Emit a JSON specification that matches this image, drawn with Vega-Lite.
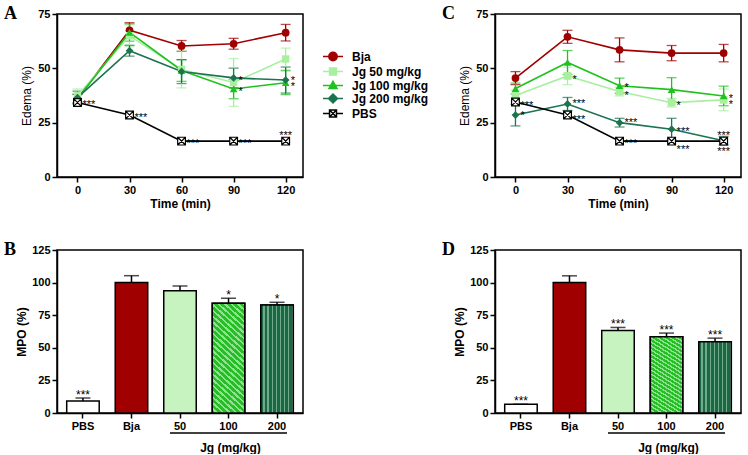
{
  "$schema": "https://vega.github.io/schema/vega-lite/v6.json",
  "background": "white",
  "padding": {"left": 3, "top": 3, "right": 0, "bottom": 0},
  "config": {
    "font": "Liberation Sans",
    "view": {"stroke": "black", "strokeWidth": 1.5},
    "axis": {"domainColor": "black", "domainWidth": 1.5, "tickColor": "black", "tickWidth": 1.5, "tickSize": 5, "labelFont": "Liberation Sans", "labelFontWeight": "bold", "labelFontSize": 11, "labelColor": "black", "labelPadding": 2, "titleFont": "Liberation Sans", "titleFontSize": 12, "titleFontWeight": "bold", "titleColor": "black", "grid": false},
    "title": {"font": "Liberation Serif", "fontSize": 18, "fontWeight": "bold", "color": "black", "anchor": "start", "frame": "group"}
  },
  "datasets": {
    "lines": [
      {"panel": "A", "series": "Bja", "time": 0, "mean": 36, "err": 2},
      {"panel": "A", "series": "Bja", "time": 30, "mean": 67.5, "err": 3.5},
      {"panel": "A", "series": "Bja", "time": 60, "mean": 60.3, "err": 2.5},
      {"panel": "A", "series": "Bja", "time": 90, "mean": 61.3, "err": 2.5},
      {"panel": "A", "series": "Bja", "time": 120, "mean": 66.4, "err": 3.8},
      {"panel": "A", "series": "Jg 50 mg/kg", "time": 0, "mean": 37.5, "err": 3},
      {"panel": "A", "series": "Jg 50 mg/kg", "time": 30, "mean": 65, "err": 5},
      {"panel": "A", "series": "Jg 50 mg/kg", "time": 60, "mean": 49.5, "err": 8.5},
      {"panel": "A", "series": "Jg 50 mg/kg", "time": 90, "mean": 43.5, "err": 11},
      {"panel": "A", "series": "Jg 50 mg/kg", "time": 120, "mean": 54.3, "err": 5},
      {"panel": "A", "series": "Jg 100 mg/kg", "time": 0, "mean": 36, "err": 2},
      {"panel": "A", "series": "Jg 100 mg/kg", "time": 30, "mean": 66.5, "err": 4},
      {"panel": "A", "series": "Jg 100 mg/kg", "time": 60, "mean": 49, "err": 5},
      {"panel": "A", "series": "Jg 100 mg/kg", "time": 90, "mean": 40.5, "err": 4.5},
      {"panel": "A", "series": "Jg 100 mg/kg", "time": 120, "mean": 43.4, "err": 5.5},
      {"panel": "A", "series": "Jg 200 mg/kg", "time": 0, "mean": 36.5, "err": 3},
      {"panel": "A", "series": "Jg 200 mg/kg", "time": 30, "mean": 58.1, "err": 2.5},
      {"panel": "A", "series": "Jg 200 mg/kg", "time": 60, "mean": 48.5, "err": 5.5},
      {"panel": "A", "series": "Jg 200 mg/kg", "time": 90, "mean": 45.6, "err": 4.5},
      {"panel": "A", "series": "Jg 200 mg/kg", "time": 120, "mean": 44.6, "err": 6},
      {"panel": "A", "series": "PBS", "time": 0, "mean": 34.3, "err": 0},
      {"panel": "A", "series": "PBS", "time": 30, "mean": 28.5, "err": 0},
      {"panel": "A", "series": "PBS", "time": 60, "mean": 16.5, "err": 0},
      {"panel": "A", "series": "PBS", "time": 90, "mean": 16.5, "err": 0},
      {"panel": "A", "series": "PBS", "time": 120, "mean": 16.5, "err": 0},
      {"panel": "C", "series": "Bja", "time": 0, "mean": 45.5, "err": 3},
      {"panel": "C", "series": "Bja", "time": 30, "mean": 64.5, "err": 3},
      {"panel": "C", "series": "Bja", "time": 60, "mean": 58.5, "err": 5.5},
      {"panel": "C", "series": "Bja", "time": 90, "mean": 57, "err": 3.5},
      {"panel": "C", "series": "Bja", "time": 120, "mean": 57, "err": 4},
      {"panel": "C", "series": "Jg 50 mg/kg", "time": 0, "mean": 37.5, "err": 2.5},
      {"panel": "C", "series": "Jg 50 mg/kg", "time": 30, "mean": 46.5, "err": 4},
      {"panel": "C", "series": "Jg 50 mg/kg", "time": 60, "mean": 39.3, "err": 2},
      {"panel": "C", "series": "Jg 50 mg/kg", "time": 90, "mean": 34.2, "err": 2},
      {"panel": "C", "series": "Jg 50 mg/kg", "time": 120, "mean": 35.5, "err": 5},
      {"panel": "C", "series": "Jg 100 mg/kg", "time": 0, "mean": 40.7, "err": 2.5},
      {"panel": "C", "series": "Jg 100 mg/kg", "time": 30, "mean": 52.7, "err": 5.5},
      {"panel": "C", "series": "Jg 100 mg/kg", "time": 60, "mean": 42, "err": 3.5},
      {"panel": "C", "series": "Jg 100 mg/kg", "time": 90, "mean": 40.2, "err": 5.5},
      {"panel": "C", "series": "Jg 100 mg/kg", "time": 120, "mean": 37.3, "err": 4.5},
      {"panel": "C", "series": "Jg 200 mg/kg", "time": 0, "mean": 28.5, "err": 5},
      {"panel": "C", "series": "Jg 200 mg/kg", "time": 30, "mean": 33.6, "err": 3},
      {"panel": "C", "series": "Jg 200 mg/kg", "time": 60, "mean": 25, "err": 2},
      {"panel": "C", "series": "Jg 200 mg/kg", "time": 90, "mean": 22, "err": 5},
      {"panel": "C", "series": "Jg 200 mg/kg", "time": 120, "mean": 16.7, "err": 2},
      {"panel": "C", "series": "PBS", "time": 0, "mean": 34.5, "err": 0},
      {"panel": "C", "series": "PBS", "time": 30, "mean": 28.5, "err": 0},
      {"panel": "C", "series": "PBS", "time": 60, "mean": 16.5, "err": 0},
      {"panel": "C", "series": "PBS", "time": 90, "mean": 16.5, "err": 0},
      {"panel": "C", "series": "PBS", "time": 120, "mean": 16.5, "err": 0}
    ],
    "stars": [
      {"panel": "A", "time": 0, "ypos": 34.3, "label": "***", "side": "right"},
      {"panel": "A", "time": 30, "ypos": 28.5, "label": "***", "side": "right"},
      {"panel": "A", "time": 60, "ypos": 16.5, "label": "***", "side": "right"},
      {"panel": "A", "time": 90, "ypos": 16.5, "label": "***", "side": "right"},
      {"panel": "A", "time": 120, "ypos": 20.3, "label": "***", "side": "center"},
      {"panel": "A", "time": 90, "ypos": 45.6, "label": "*", "side": "right"},
      {"panel": "A", "time": 90, "ypos": 40.5, "label": "*", "side": "right"},
      {"panel": "A", "time": 120, "ypos": 45.5, "label": "*", "side": "right"},
      {"panel": "A", "time": 120, "ypos": 42.9, "label": "*", "side": "right"},
      {"panel": "C", "time": 0, "ypos": 29.4, "label": "*", "side": "right"},
      {"panel": "C", "time": 0, "ypos": 34, "label": "***", "side": "right"},
      {"panel": "C", "time": 30, "ypos": 35, "label": "***", "side": "right"},
      {"panel": "C", "time": 30, "ypos": 27.6, "label": "***", "side": "right"},
      {"panel": "C", "time": 30, "ypos": 46, "label": "*", "side": "right"},
      {"panel": "C", "time": 60, "ypos": 42.3, "label": "*", "side": "right"},
      {"panel": "C", "time": 60, "ypos": 38.6, "label": "*", "side": "right"},
      {"panel": "C", "time": 60, "ypos": 26, "label": "***", "side": "right"},
      {"panel": "C", "time": 60, "ypos": 16.7, "label": "***", "side": "right"},
      {"panel": "C", "time": 90, "ypos": 34, "label": "*", "side": "right"},
      {"panel": "C", "time": 90, "ypos": 22, "label": "***", "side": "right"},
      {"panel": "C", "time": 90, "ypos": 14, "label": "***", "side": "right"},
      {"panel": "C", "time": 120, "ypos": 37.4, "label": "*", "side": "right"},
      {"panel": "C", "time": 120, "ypos": 34.7, "label": "*", "side": "right"},
      {"panel": "C", "time": 120, "ypos": 20.3, "label": "***", "side": "center"},
      {"panel": "C", "time": 120, "ypos": 12.9, "label": "***", "side": "center"}
    ],
    "bars": [
      {"panel": "B", "group": "PBS", "value": 9.2, "top": 11.5, "label": "***"},
      {"panel": "B", "group": "Bja", "value": 100, "top": 105.3, "label": ""},
      {"panel": "B", "group": "50", "value": 93.8, "top": 97.4, "label": ""},
      {"panel": "B", "group": "100", "value": 84.1, "top": 88, "label": "*"},
      {"panel": "B", "group": "200", "value": 82.8, "top": 84.9, "label": "*"},
      {"panel": "D", "group": "PBS", "value": 6.7, "top": 6.7, "label": "***"},
      {"panel": "D", "group": "Bja", "value": 100, "top": 105.2, "label": ""},
      {"panel": "D", "group": "50", "value": 63.2, "top": 65.6, "label": "***"},
      {"panel": "D", "group": "100", "value": 58.4, "top": 61.3, "label": "***"},
      {"panel": "D", "group": "200", "value": 54.6, "top": 57.4, "label": "***"}
    ],
    "brackets": [
      {"from": "50", "to": "200", "level": -15.4}
    ]
  },
  "concat": [
    {
      "width": 246, "height": 163,
      "title": {"text": "A", "dx": -53, "dy": 18.5},
      "data": {"name": "lines"},
      "transform": [{"filter": "datum.panel === 'A'"}],
      "encoding": {
        "x": {"field": "time", "type": "quantitative", "title": "Time (min)", "scale": {"domain": [-11.8, 130], "nice": false, "zero": false}, "axis": {"values": [0, 30, 60, 90, 120], "titlePadding": 3}},
        "y": {"field": "mean", "type": "quantitative", "title": "Edema (%)", "scale": {"domain": [0, 75], "nice": false}, "axis": {"values": [0, 25, 50, 75], "titleFontWeight": "normal", "titlePadding": 4}}
      },
      "layer": [
        {
          "transform": [{"filter": "datum.time < 0"}],
          "mark": {"type": "point", "filled": true, "opacity": 1},
          "encoding": {
            "fill": {"field": "series", "type": "nominal", "scale": {"domain": ["Bja", "Jg 50 mg/kg", "Jg 100 mg/kg", "Jg 200 mg/kg", "PBS"], "range": ["#a00000", "#a8f0a0", "#1ec21e", "#1b7350", "#ffffff"]},
              "legend": {"title": null, "orient": "none", "legendX": 269, "legendY": 35.5, "padding": 0, "rowPadding": -1, "symbolSize": 144, "symbolStrokeWidth": 1.5, "symbolOpacity": 1, "labelFont": "Liberation Sans", "labelFontSize": 12, "labelFontWeight": "bold", "labelColor": "black", "labelOffset": 12}},
            "stroke": {"field": "series", "type": "nominal", "scale": {"domain": ["Bja", "Jg 50 mg/kg", "Jg 100 mg/kg", "Jg 200 mg/kg", "PBS"], "range": ["#a00000", "#a8f0a0", "#1ec21e", "#1b7350", "#000000"]}},
            "shape": {"field": "series", "type": "nominal", "scale": {"domain": ["Bja", "Jg 50 mg/kg", "Jg 100 mg/kg", "Jg 200 mg/kg", "PBS"], "range": [
              "M-1.667,0L1.667,0M-0.7,0A0.7,0.7,0,1,0,0.7,0A0.7,0.7,0,1,0,-0.7,0Z",
              "M-1.667,0L1.667,0M-0.58,-0.58L0.58,-0.58L0.58,0.58L-0.58,0.58Z",
              "M-1.667,0L1.667,0M0,-0.7L0.67,0.5L-0.67,0.5Z",
              "M-1.667,0L1.667,0M0,-0.75L0.75,0L0,0.75L-0.75,0Z",
              "M-1.667,0L-0.58,0M0.58,0L1.667,0M-0.58,-0.58L0.58,-0.58L0.58,0.58L-0.58,0.58ZM-0.58,-0.58L0.58,0.58M0.58,-0.58L-0.58,0.58"]}}
          }
        },
        {
          "transform": [{"filter": "datum.series !== 'PBS'"}],
          "mark": {"type": "errorbar", "ticks": {"size": 10, "thickness": 1.3}, "rule": {"strokeWidth": 1.3}},
          "encoding": {
            "yError": {"field": "err"},
            "color": {"field": "series", "type": "nominal", "scale": {"domain": ["PBS", "Bja", "Jg 50 mg/kg", "Jg 100 mg/kg", "Jg 200 mg/kg"], "range": ["#000000", "#a00000", "#a8f0a0", "#1ec21e", "#1b7350"]}, "legend": null}
          }
        },
        {
          "mark": {"type": "line", "strokeWidth": 1.6},
          "encoding": {
            "color": {"field": "series", "type": "nominal", "scale": {"domain": ["PBS", "Bja", "Jg 50 mg/kg", "Jg 100 mg/kg", "Jg 200 mg/kg"], "range": ["#000000", "#a00000", "#a8f0a0", "#1ec21e", "#1b7350"]}, "legend": null}
          }
        },
        {
          "transform": [{"filter": "datum.series === 'Bja'"}],
          "mark": {"type": "point", "filled": true, "size": 60, "opacity": 1, "shape": "circle", "color": "#a00000"}
        },
        {
          "transform": [{"filter": "datum.series === 'Jg 50 mg/kg'"}],
          "mark": {"type": "point", "filled": true, "size": 55, "opacity": 1, "shape": "square", "color": "#a8f0a0"}
        },
        {
          "transform": [{"filter": "datum.series === 'Jg 100 mg/kg'"}],
          "mark": {"type": "point", "filled": true, "size": 60, "opacity": 1, "shape": "triangle-up", "color": "#1ec21e"}
        },
        {
          "transform": [{"filter": "datum.series === 'Jg 200 mg/kg'"}],
          "mark": {"type": "point", "filled": true, "size": 60, "opacity": 1, "shape": "diamond", "color": "#1b7350"}
        },
        {
          "transform": [{"filter": "datum.series === 'PBS'"}],
          "mark": {"type": "point", "filled": false, "fill": "white", "stroke": "black", "strokeWidth": 1.2, "size": 60, "opacity": 1, "shape": "M-1,-1L1,-1L1,1L-1,1ZM-1,-1L1,1M1,-1L-1,1"}
        },
        {
          "data": {"name": "stars"},
          "transform": [{"filter": "datum.panel === 'A' && datum.side === 'right'"}],
          "mark": {"type": "text", "align": "left", "baseline": "middle", "dx": 5, "dy": 3, "fontSize": 11, "font": "Liberation Sans", "color": "black"},
          "encoding": {"y": {"field": "ypos", "type": "quantitative", "title": "Edema (%)"}, "text": {"field": "label"}}
        },
        {
          "data": {"name": "stars"},
          "transform": [{"filter": "datum.panel === 'A' && datum.side === 'center'"}],
          "mark": {"type": "text", "align": "center", "baseline": "middle", "dy": 3, "fontSize": 11, "font": "Liberation Sans", "color": "black"},
          "encoding": {"y": {"field": "ypos", "type": "quantitative", "title": "Edema (%)"}, "text": {"field": "label"}}
        }
      ]
    },
    {
      "width": 246, "height": 163,
      "title": {"text": "C", "dx": -53, "dy": 18.5},
      "data": {"name": "lines"},
      "transform": [{"filter": "datum.panel === 'C'"}],
      "encoding": {
        "x": {"field": "time", "type": "quantitative", "title": "Time (min)", "scale": {"domain": [-11.8, 130], "nice": false, "zero": false}, "axis": {"values": [0, 30, 60, 90, 120], "titlePadding": 3}},
        "y": {"field": "mean", "type": "quantitative", "title": "Edema (%)", "scale": {"domain": [0, 75], "nice": false}, "axis": {"values": [0, 25, 50, 75], "titleFontWeight": "normal", "titlePadding": 4}}
      },
      "layer": [
        {
          "transform": [{"filter": "datum.series !== 'PBS'"}],
          "mark": {"type": "errorbar", "ticks": {"size": 10, "thickness": 1.3}, "rule": {"strokeWidth": 1.3}},
          "encoding": {
            "yError": {"field": "err"},
            "color": {"field": "series", "type": "nominal", "scale": {"domain": ["Bja", "Jg 50 mg/kg", "Jg 100 mg/kg", "Jg 200 mg/kg", "PBS"], "range": ["#a00000", "#a8f0a0", "#1ec21e", "#1b7350", "#000000"]}, "legend": null}
          }
        },
        {
          "mark": {"type": "line", "strokeWidth": 1.6},
          "encoding": {
            "color": {"field": "series", "type": "nominal", "scale": {"domain": ["Bja", "Jg 50 mg/kg", "Jg 100 mg/kg", "Jg 200 mg/kg", "PBS"], "range": ["#a00000", "#a8f0a0", "#1ec21e", "#1b7350", "#000000"]}, "legend": null}
          }
        },
        {
          "transform": [{"filter": "datum.series !== 'PBS'"}],
          "mark": {"type": "point", "filled": true, "size": 60, "opacity": 1},
          "encoding": {
            "color": {"field": "series", "type": "nominal", "scale": {"domain": ["Bja", "Jg 50 mg/kg", "Jg 100 mg/kg", "Jg 200 mg/kg", "PBS"], "range": ["#a00000", "#a8f0a0", "#1ec21e", "#1b7350", "#000000"]}, "legend": null},
            "shape": {"field": "series", "type": "nominal", "scale": {"domain": ["Bja", "Jg 50 mg/kg", "Jg 100 mg/kg", "Jg 200 mg/kg", "PBS"], "range": ["circle", "square", "triangle-up", "diamond", "square"]}, "legend": null}
          }
        },
        {
          "transform": [{"filter": "datum.series === 'PBS'"}],
          "mark": {"type": "point", "filled": false, "fill": "white", "stroke": "black", "strokeWidth": 1.2, "size": 60, "opacity": 1, "shape": "M-1,-1L1,-1L1,1L-1,1ZM-1,-1L1,1M1,-1L-1,1"}
        },
        {
          "data": {"name": "stars"},
          "transform": [{"filter": "datum.panel === 'C' && datum.side === 'right'"}],
          "mark": {"type": "text", "align": "left", "baseline": "middle", "dx": 5, "dy": 3, "fontSize": 11, "font": "Liberation Sans", "color": "black"},
          "encoding": {"y": {"field": "ypos", "type": "quantitative", "title": "Edema (%)"}, "text": {"field": "label"}}
        },
        {
          "data": {"name": "stars"},
          "transform": [{"filter": "datum.panel === 'C' && datum.side === 'center'"}],
          "mark": {"type": "text", "align": "center", "baseline": "middle", "dy": 3, "fontSize": 11, "font": "Liberation Sans", "color": "black"},
          "encoding": {"y": {"field": "ypos", "type": "quantitative", "title": "Edema (%)"}, "text": {"field": "label"}}
        }
      ]
    },
    {
      "width": 246, "height": 163,
      "title": {"text": "B", "dx": -53, "dy": 18.5},
      "data": {"name": "bars"},
      "transform": [{"filter": "datum.panel === 'B'"}],
      "encoding": {
        "x": {"field": "group", "type": "nominal", "title": "Jg (mg/kg)", "scale": {"domain": ["PBS", "Bja", "50", "100", "200"], "paddingInner": 0.33, "paddingOuter": 0.2}, "axis": {"labelAngle": 0, "titleX": 173, "titleY": 34, "titleBaseline": "middle"}},
        "y": {"field": "value", "type": "quantitative", "title": "MPO (%)", "scale": {"domain": [0, 125], "nice": false}, "axis": {"values": [0, 25, 50, 75, 100, 125], "titlePadding": 3}}
      },
      "layer": [
        {
          "mark": {"type": "bar", "stroke": "black", "strokeWidth": 1.5},
          "encoding": {"color": {"field": "group", "type": "nominal", "scale": {"domain": ["PBS", "Bja", "50", "100", "200"], "range": ["#ffffff", "#a00000", "#c6f3bf", "#4ccc4c", "#2a7453"]}, "legend": null}}
        },
        {
          "transform": [{"filter": "datum.group === '100'"}],
          "mark": {"type": "bar", "stroke": "black", "strokeWidth": 1.5, "fill": {"gradient": "linear", "x1": 0, "y1": 1, "x2": 0.315, "y2": -0.182, "stops": [
            {"offset": 0, "color": "#27bd27"}, {"offset": 0.025, "color": "#27bd27"}, {"offset": 0.025, "color": "#8ee38e"}, {"offset": 0.0417, "color": "#8ee38e"},
            {"offset": 0.0417, "color": "#27bd27"}, {"offset": 0.0667, "color": "#27bd27"}, {"offset": 0.0667, "color": "#8ee38e"}, {"offset": 0.0833, "color": "#8ee38e"},
            {"offset": 0.0833, "color": "#27bd27"}, {"offset": 0.1083, "color": "#27bd27"}, {"offset": 0.1083, "color": "#8ee38e"}, {"offset": 0.125, "color": "#8ee38e"},
            {"offset": 0.125, "color": "#27bd27"}, {"offset": 0.15, "color": "#27bd27"}, {"offset": 0.15, "color": "#8ee38e"}, {"offset": 0.1667, "color": "#8ee38e"},
            {"offset": 0.1667, "color": "#27bd27"}, {"offset": 0.1917, "color": "#27bd27"}, {"offset": 0.1917, "color": "#8ee38e"}, {"offset": 0.2083, "color": "#8ee38e"},
            {"offset": 0.2083, "color": "#27bd27"}, {"offset": 0.2333, "color": "#27bd27"}, {"offset": 0.2333, "color": "#8ee38e"}, {"offset": 0.25, "color": "#8ee38e"},
            {"offset": 0.25, "color": "#27bd27"}, {"offset": 0.275, "color": "#27bd27"}, {"offset": 0.275, "color": "#8ee38e"}, {"offset": 0.2917, "color": "#8ee38e"},
            {"offset": 0.2917, "color": "#27bd27"}, {"offset": 0.3167, "color": "#27bd27"}, {"offset": 0.3167, "color": "#8ee38e"}, {"offset": 0.3333, "color": "#8ee38e"},
            {"offset": 0.3333, "color": "#27bd27"}, {"offset": 0.3583, "color": "#27bd27"}, {"offset": 0.3583, "color": "#8ee38e"}, {"offset": 0.375, "color": "#8ee38e"},
            {"offset": 0.375, "color": "#27bd27"}, {"offset": 0.4, "color": "#27bd27"}, {"offset": 0.4, "color": "#8ee38e"}, {"offset": 0.4167, "color": "#8ee38e"},
            {"offset": 0.4167, "color": "#27bd27"}, {"offset": 0.4417, "color": "#27bd27"}, {"offset": 0.4417, "color": "#8ee38e"}, {"offset": 0.4583, "color": "#8ee38e"},
            {"offset": 0.4583, "color": "#27bd27"}, {"offset": 0.4833, "color": "#27bd27"}, {"offset": 0.4833, "color": "#8ee38e"}, {"offset": 0.5, "color": "#8ee38e"},
            {"offset": 0.5, "color": "#27bd27"}, {"offset": 0.525, "color": "#27bd27"}, {"offset": 0.525, "color": "#8ee38e"}, {"offset": 0.5417, "color": "#8ee38e"},
            {"offset": 0.5417, "color": "#27bd27"}, {"offset": 0.5667, "color": "#27bd27"}, {"offset": 0.5667, "color": "#8ee38e"}, {"offset": 0.5833, "color": "#8ee38e"},
            {"offset": 0.5833, "color": "#27bd27"}, {"offset": 0.6083, "color": "#27bd27"}, {"offset": 0.6083, "color": "#8ee38e"}, {"offset": 0.625, "color": "#8ee38e"},
            {"offset": 0.625, "color": "#27bd27"}, {"offset": 0.65, "color": "#27bd27"}, {"offset": 0.65, "color": "#8ee38e"}, {"offset": 0.6667, "color": "#8ee38e"},
            {"offset": 0.6667, "color": "#27bd27"}, {"offset": 0.6917, "color": "#27bd27"}, {"offset": 0.6917, "color": "#8ee38e"}, {"offset": 0.7083, "color": "#8ee38e"},
            {"offset": 0.7083, "color": "#27bd27"}, {"offset": 0.7333, "color": "#27bd27"}, {"offset": 0.7333, "color": "#8ee38e"}, {"offset": 0.75, "color": "#8ee38e"},
            {"offset": 0.75, "color": "#27bd27"}, {"offset": 0.775, "color": "#27bd27"}, {"offset": 0.775, "color": "#8ee38e"}, {"offset": 0.7917, "color": "#8ee38e"},
            {"offset": 0.7917, "color": "#27bd27"}, {"offset": 0.8167, "color": "#27bd27"}, {"offset": 0.8167, "color": "#8ee38e"}, {"offset": 0.8333, "color": "#8ee38e"},
            {"offset": 0.8333, "color": "#27bd27"}, {"offset": 0.8583, "color": "#27bd27"}, {"offset": 0.8583, "color": "#8ee38e"}, {"offset": 0.875, "color": "#8ee38e"},
            {"offset": 0.875, "color": "#27bd27"}, {"offset": 0.9, "color": "#27bd27"}, {"offset": 0.9, "color": "#8ee38e"}, {"offset": 0.9167, "color": "#8ee38e"},
            {"offset": 0.9167, "color": "#27bd27"}, {"offset": 0.9417, "color": "#27bd27"}, {"offset": 0.9417, "color": "#8ee38e"}, {"offset": 0.9583, "color": "#8ee38e"},
            {"offset": 0.9583, "color": "#27bd27"}, {"offset": 0.9833, "color": "#27bd27"}, {"offset": 0.9833, "color": "#8ee38e"}, {"offset": 1, "color": "#8ee38e"}]}}
        },
        {
          "transform": [{"filter": "datum.group === '200'"}],
          "mark": {"type": "bar", "stroke": "black", "strokeWidth": 1.5, "fill": {"gradient": "linear", "x1": 0, "y1": 0, "x2": 1, "y2": 0, "stops": [
            {"offset": 0, "color": "#1b6943"}, {"offset": 0.08125, "color": "#1b6943"}, {"offset": 0.08125, "color": "#72aa8e"}, {"offset": 0.125, "color": "#72aa8e"},
            {"offset": 0.125, "color": "#1b6943"}, {"offset": 0.20625, "color": "#1b6943"}, {"offset": 0.20625, "color": "#72aa8e"}, {"offset": 0.25, "color": "#72aa8e"},
            {"offset": 0.25, "color": "#1b6943"}, {"offset": 0.33125, "color": "#1b6943"}, {"offset": 0.33125, "color": "#72aa8e"}, {"offset": 0.375, "color": "#72aa8e"},
            {"offset": 0.375, "color": "#1b6943"}, {"offset": 0.45625, "color": "#1b6943"}, {"offset": 0.45625, "color": "#72aa8e"}, {"offset": 0.5, "color": "#72aa8e"},
            {"offset": 0.5, "color": "#1b6943"}, {"offset": 0.58125, "color": "#1b6943"}, {"offset": 0.58125, "color": "#72aa8e"}, {"offset": 0.625, "color": "#72aa8e"},
            {"offset": 0.625, "color": "#1b6943"}, {"offset": 0.70625, "color": "#1b6943"}, {"offset": 0.70625, "color": "#72aa8e"}, {"offset": 0.75, "color": "#72aa8e"},
            {"offset": 0.75, "color": "#1b6943"}, {"offset": 0.83125, "color": "#1b6943"}, {"offset": 0.83125, "color": "#72aa8e"}, {"offset": 0.875, "color": "#72aa8e"},
            {"offset": 0.875, "color": "#1b6943"}, {"offset": 0.95625, "color": "#1b6943"}, {"offset": 0.95625, "color": "#72aa8e"}, {"offset": 1, "color": "#72aa8e"}]}}
        },
        {
          "mark": {"type": "rule", "color": "black", "strokeWidth": 1.5},
          "encoding": {"y2": {"field": "top"}}
        },
        {
          "mark": {"type": "tick", "color": "black", "thickness": 1.5, "size": 15},
          "encoding": {"y": {"field": "top", "type": "quantitative", "title": "MPO (%)"}}
        },
        {
          "mark": {"type": "text", "baseline": "bottom", "dy": 4, "fontSize": 12, "font": "Liberation Sans", "color": "black"},
          "encoding": {"y": {"field": "top", "type": "quantitative", "title": "MPO (%)"}, "text": {"field": "label"}}
        },
        {
          "data": {"name": "brackets"},
          "mark": {"type": "rule", "color": "black", "strokeWidth": 1.5, "xOffset": -10, "x2Offset": 10},
          "encoding": {
            "x": {"field": "from", "type": "nominal", "title": "Jg (mg/kg)"},
            "x2": {"field": "to"},
            "y": {"field": "level", "type": "quantitative", "title": "MPO (%)"}
          }
        }
      ]
    },
    {
      "width": 246, "height": 163,
      "title": {"text": "D", "dx": -53, "dy": 18.5},
      "data": {"name": "bars"},
      "transform": [{"filter": "datum.panel === 'D'"}],
      "encoding": {
        "x": {"field": "group", "type": "nominal", "title": "Jg (mg/kg)", "scale": {"domain": ["PBS", "Bja", "50", "100", "200"], "paddingInner": 0.33, "paddingOuter": 0.2}, "axis": {"labelAngle": 0, "titleX": 173, "titleY": 34, "titleBaseline": "middle"}},
        "y": {"field": "value", "type": "quantitative", "title": "MPO (%)", "scale": {"domain": [0, 125], "nice": false}, "axis": {"values": [0, 25, 50, 75, 100, 125], "titlePadding": 3}}
      },
      "layer": [
        {
          "mark": {"type": "bar", "stroke": "black", "strokeWidth": 1.5},
          "encoding": {"color": {"field": "group", "type": "nominal", "scale": {"domain": ["PBS", "Bja", "50", "100", "200"], "range": ["#ffffff", "#a00000", "#c6f3bf", "#4ccc4c", "#2a7453"]}, "legend": null}}
        },
        {
          "transform": [{"filter": "datum.group === '100'"}],
          "mark": {"type": "bar", "stroke": "black", "strokeWidth": 1.5, "fill": {"gradient": "linear", "x1": 0, "y1": 1, "x2": 0.315, "y2": -0.182, "stops": [
            {"offset": 0, "color": "#27bd27"}, {"offset": 0.025, "color": "#27bd27"}, {"offset": 0.025, "color": "#8ee38e"}, {"offset": 0.0417, "color": "#8ee38e"},
            {"offset": 0.0417, "color": "#27bd27"}, {"offset": 0.0667, "color": "#27bd27"}, {"offset": 0.0667, "color": "#8ee38e"}, {"offset": 0.0833, "color": "#8ee38e"},
            {"offset": 0.0833, "color": "#27bd27"}, {"offset": 0.1083, "color": "#27bd27"}, {"offset": 0.1083, "color": "#8ee38e"}, {"offset": 0.125, "color": "#8ee38e"},
            {"offset": 0.125, "color": "#27bd27"}, {"offset": 0.15, "color": "#27bd27"}, {"offset": 0.15, "color": "#8ee38e"}, {"offset": 0.1667, "color": "#8ee38e"},
            {"offset": 0.1667, "color": "#27bd27"}, {"offset": 0.1917, "color": "#27bd27"}, {"offset": 0.1917, "color": "#8ee38e"}, {"offset": 0.2083, "color": "#8ee38e"},
            {"offset": 0.2083, "color": "#27bd27"}, {"offset": 0.2333, "color": "#27bd27"}, {"offset": 0.2333, "color": "#8ee38e"}, {"offset": 0.25, "color": "#8ee38e"},
            {"offset": 0.25, "color": "#27bd27"}, {"offset": 0.275, "color": "#27bd27"}, {"offset": 0.275, "color": "#8ee38e"}, {"offset": 0.2917, "color": "#8ee38e"},
            {"offset": 0.2917, "color": "#27bd27"}, {"offset": 0.3167, "color": "#27bd27"}, {"offset": 0.3167, "color": "#8ee38e"}, {"offset": 0.3333, "color": "#8ee38e"},
            {"offset": 0.3333, "color": "#27bd27"}, {"offset": 0.3583, "color": "#27bd27"}, {"offset": 0.3583, "color": "#8ee38e"}, {"offset": 0.375, "color": "#8ee38e"},
            {"offset": 0.375, "color": "#27bd27"}, {"offset": 0.4, "color": "#27bd27"}, {"offset": 0.4, "color": "#8ee38e"}, {"offset": 0.4167, "color": "#8ee38e"},
            {"offset": 0.4167, "color": "#27bd27"}, {"offset": 0.4417, "color": "#27bd27"}, {"offset": 0.4417, "color": "#8ee38e"}, {"offset": 0.4583, "color": "#8ee38e"},
            {"offset": 0.4583, "color": "#27bd27"}, {"offset": 0.4833, "color": "#27bd27"}, {"offset": 0.4833, "color": "#8ee38e"}, {"offset": 0.5, "color": "#8ee38e"},
            {"offset": 0.5, "color": "#27bd27"}, {"offset": 0.525, "color": "#27bd27"}, {"offset": 0.525, "color": "#8ee38e"}, {"offset": 0.5417, "color": "#8ee38e"},
            {"offset": 0.5417, "color": "#27bd27"}, {"offset": 0.5667, "color": "#27bd27"}, {"offset": 0.5667, "color": "#8ee38e"}, {"offset": 0.5833, "color": "#8ee38e"},
            {"offset": 0.5833, "color": "#27bd27"}, {"offset": 0.6083, "color": "#27bd27"}, {"offset": 0.6083, "color": "#8ee38e"}, {"offset": 0.625, "color": "#8ee38e"},
            {"offset": 0.625, "color": "#27bd27"}, {"offset": 0.65, "color": "#27bd27"}, {"offset": 0.65, "color": "#8ee38e"}, {"offset": 0.6667, "color": "#8ee38e"},
            {"offset": 0.6667, "color": "#27bd27"}, {"offset": 0.6917, "color": "#27bd27"}, {"offset": 0.6917, "color": "#8ee38e"}, {"offset": 0.7083, "color": "#8ee38e"},
            {"offset": 0.7083, "color": "#27bd27"}, {"offset": 0.7333, "color": "#27bd27"}, {"offset": 0.7333, "color": "#8ee38e"}, {"offset": 0.75, "color": "#8ee38e"},
            {"offset": 0.75, "color": "#27bd27"}, {"offset": 0.775, "color": "#27bd27"}, {"offset": 0.775, "color": "#8ee38e"}, {"offset": 0.7917, "color": "#8ee38e"},
            {"offset": 0.7917, "color": "#27bd27"}, {"offset": 0.8167, "color": "#27bd27"}, {"offset": 0.8167, "color": "#8ee38e"}, {"offset": 0.8333, "color": "#8ee38e"},
            {"offset": 0.8333, "color": "#27bd27"}, {"offset": 0.8583, "color": "#27bd27"}, {"offset": 0.8583, "color": "#8ee38e"}, {"offset": 0.875, "color": "#8ee38e"},
            {"offset": 0.875, "color": "#27bd27"}, {"offset": 0.9, "color": "#27bd27"}, {"offset": 0.9, "color": "#8ee38e"}, {"offset": 0.9167, "color": "#8ee38e"},
            {"offset": 0.9167, "color": "#27bd27"}, {"offset": 0.9417, "color": "#27bd27"}, {"offset": 0.9417, "color": "#8ee38e"}, {"offset": 0.9583, "color": "#8ee38e"},
            {"offset": 0.9583, "color": "#27bd27"}, {"offset": 0.9833, "color": "#27bd27"}, {"offset": 0.9833, "color": "#8ee38e"}, {"offset": 1, "color": "#8ee38e"}]}}
        },
        {
          "transform": [{"filter": "datum.group === '200'"}],
          "mark": {"type": "bar", "stroke": "black", "strokeWidth": 1.5, "fill": {"gradient": "linear", "x1": 0, "y1": 0, "x2": 1, "y2": 0, "stops": [
            {"offset": 0, "color": "#1b6943"}, {"offset": 0.08125, "color": "#1b6943"}, {"offset": 0.08125, "color": "#72aa8e"}, {"offset": 0.125, "color": "#72aa8e"},
            {"offset": 0.125, "color": "#1b6943"}, {"offset": 0.20625, "color": "#1b6943"}, {"offset": 0.20625, "color": "#72aa8e"}, {"offset": 0.25, "color": "#72aa8e"},
            {"offset": 0.25, "color": "#1b6943"}, {"offset": 0.33125, "color": "#1b6943"}, {"offset": 0.33125, "color": "#72aa8e"}, {"offset": 0.375, "color": "#72aa8e"},
            {"offset": 0.375, "color": "#1b6943"}, {"offset": 0.45625, "color": "#1b6943"}, {"offset": 0.45625, "color": "#72aa8e"}, {"offset": 0.5, "color": "#72aa8e"},
            {"offset": 0.5, "color": "#1b6943"}, {"offset": 0.58125, "color": "#1b6943"}, {"offset": 0.58125, "color": "#72aa8e"}, {"offset": 0.625, "color": "#72aa8e"},
            {"offset": 0.625, "color": "#1b6943"}, {"offset": 0.70625, "color": "#1b6943"}, {"offset": 0.70625, "color": "#72aa8e"}, {"offset": 0.75, "color": "#72aa8e"},
            {"offset": 0.75, "color": "#1b6943"}, {"offset": 0.83125, "color": "#1b6943"}, {"offset": 0.83125, "color": "#72aa8e"}, {"offset": 0.875, "color": "#72aa8e"},
            {"offset": 0.875, "color": "#1b6943"}, {"offset": 0.95625, "color": "#1b6943"}, {"offset": 0.95625, "color": "#72aa8e"}, {"offset": 1, "color": "#72aa8e"}]}}
        },
        {
          "mark": {"type": "rule", "color": "black", "strokeWidth": 1.5},
          "encoding": {"y2": {"field": "top"}}
        },
        {
          "mark": {"type": "tick", "color": "black", "thickness": 1.5, "size": 15},
          "encoding": {"y": {"field": "top", "type": "quantitative", "title": "MPO (%)"}}
        },
        {
          "mark": {"type": "text", "baseline": "bottom", "dy": 4, "fontSize": 12, "font": "Liberation Sans", "color": "black"},
          "encoding": {"y": {"field": "top", "type": "quantitative", "title": "MPO (%)"}, "text": {"field": "label"}}
        },
        {
          "data": {"name": "brackets"},
          "mark": {"type": "rule", "color": "black", "strokeWidth": 1.5, "xOffset": -10, "x2Offset": 10},
          "encoding": {
            "x": {"field": "from", "type": "nominal", "title": "Jg (mg/kg)"},
            "x2": {"field": "to"},
            "y": {"field": "level", "type": "quantitative", "title": "MPO (%)"}
          }
        }
      ]
    }
  ],
  "columns": 2,
  "spacing": {"row": 73, "column": 192},
  "bounds": "flush",
  "resolve": {"scale": {"color": "independent", "fill": "independent", "stroke": "independent", "shape": "independent", "x": "independent", "y": "independent"}, "legend": {"color": "independent", "fill": "independent", "stroke": "independent", "shape": "independent"}}
}
